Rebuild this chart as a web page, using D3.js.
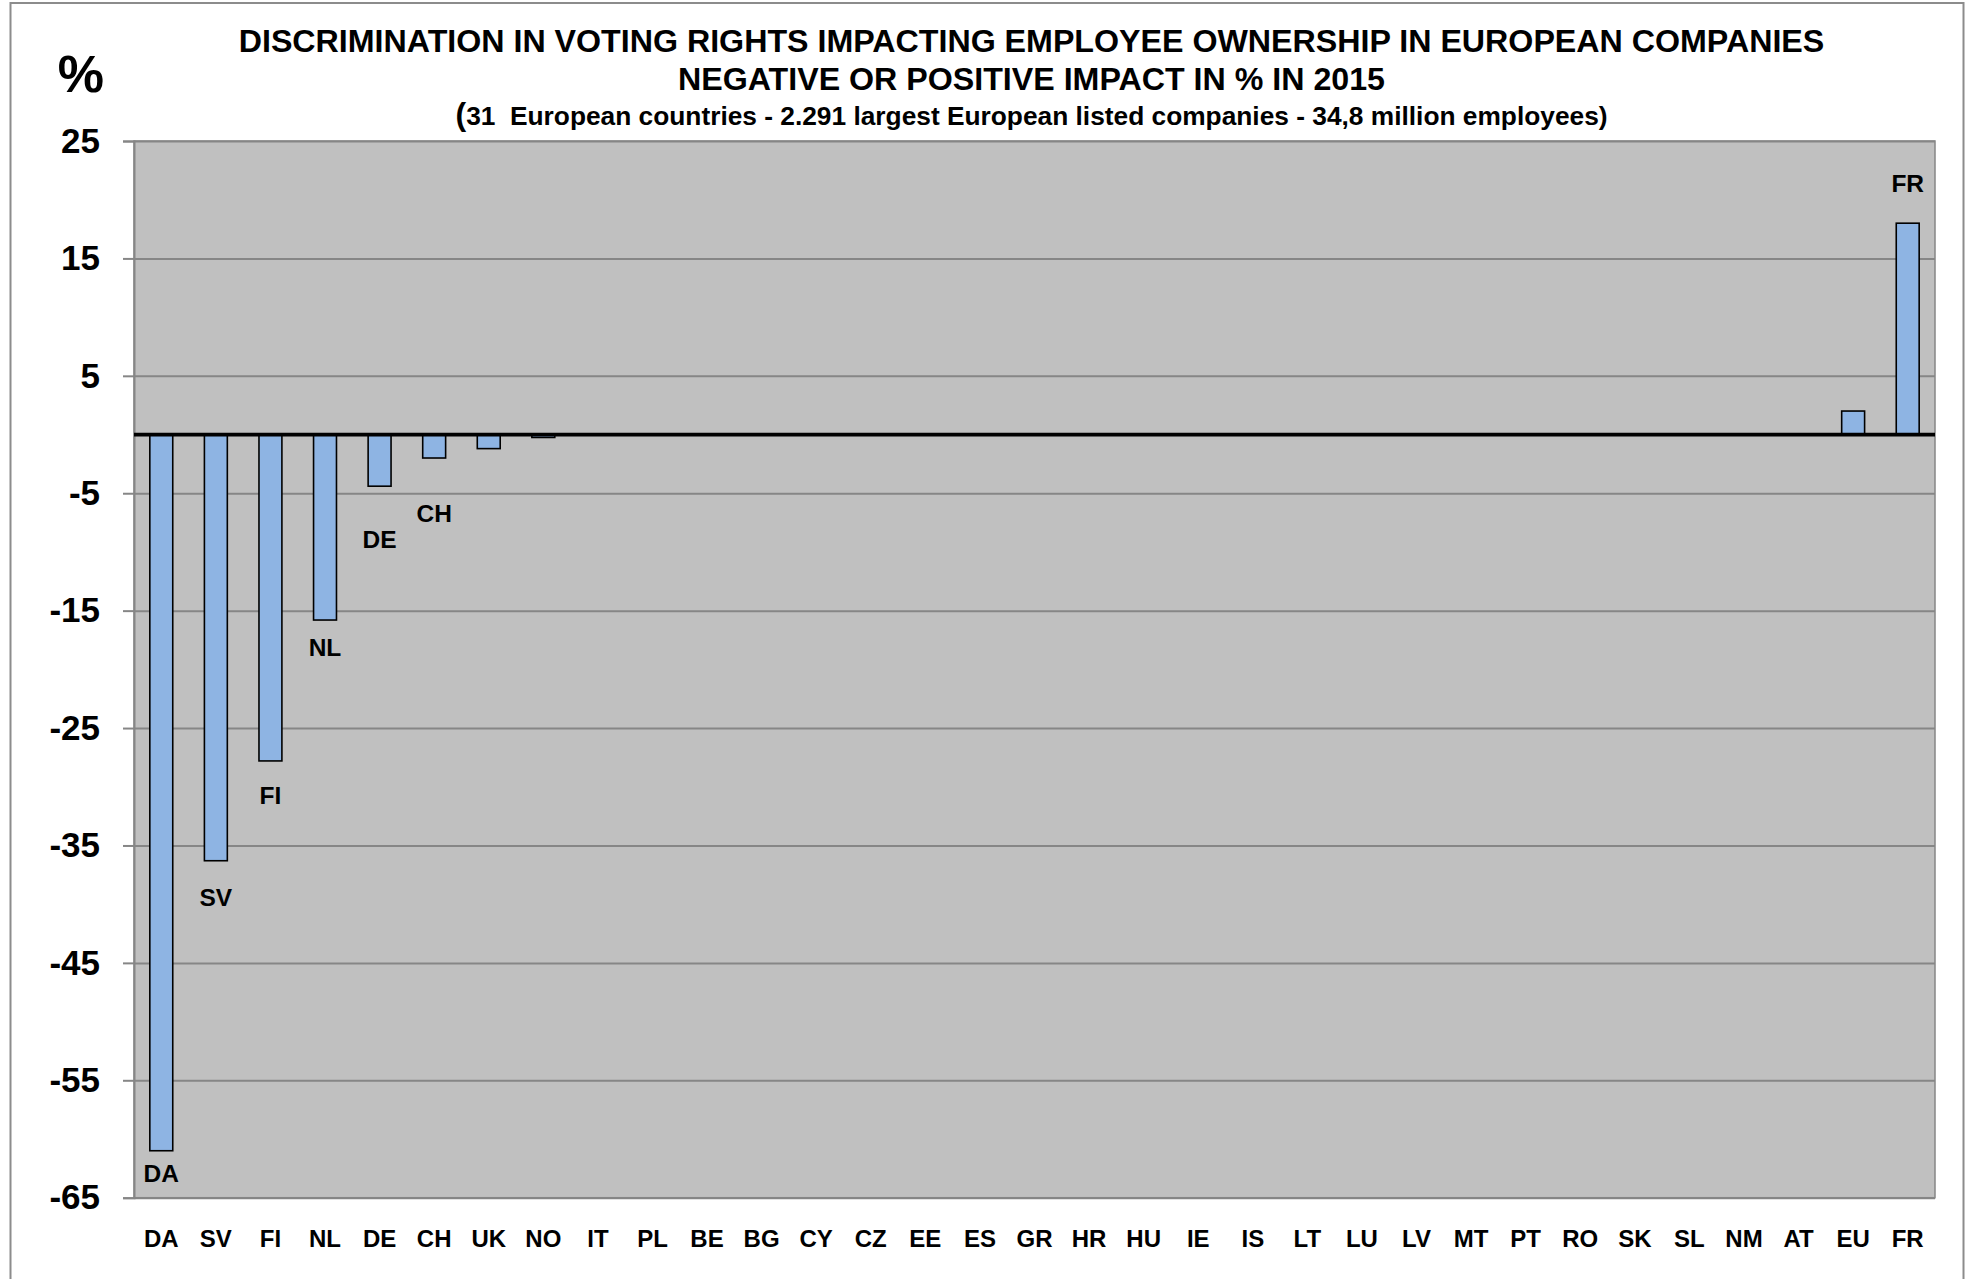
<!DOCTYPE html>
<html>
<head>
<meta charset="utf-8">
<script src="https://cdn.jsdelivr.net/npm/d3@7"></script>
<style>
  html, body { margin: 0; padding: 0; background: #ffffff; }
  svg { display: block; }
  text { font-family: "Liberation Sans", Arial, Helvetica, sans-serif; font-weight: bold; fill: #000; }
</style>
</head>
<body>
<script>
// Countries, ordered as on the category axis
const categories = ["DA","SV","FI","NL","DE","CH","UK","NO","IT","PL","BE","BG","CY","CZ","EE","ES",
                    "GR","HR","HU","IE","IS","LT","LU","LV","MT","PT","RO","SK","SL","NM","AT","EU","FR"];

// Negative or positive impact on employee ownership, % (2015)
const impact = [-61.0, -36.3, -27.8, -15.8, -4.4, -2.0, -1.2, -0.25,
                0, 0, 0, 0, 0, 0, 0, 0, 0, 0, 0, 0, 0, 0, 0, 0, 0, 0, 0, 0, 0, 0, 0,
                2.0, 18.0];

// Value-axis ticks
const yTicks = [25, 15, 5, -5, -15, -25, -35, -45, -55, -65];

// Countries that carry a data label
const labelled = ["DA", "SV", "FI", "NL", "DE", "CH", "FR"];

const titleLines = [
  "DISCRIMINATION IN VOTING RIGHTS IMPACTING EMPLOYEE OWNERSHIP IN EUROPEAN COMPANIES",
  "NEGATIVE OR POSITIVE IMPACT IN % IN 2015"
];
const subtitle = "31  European countries - 2.291 largest European listed companies - 34,8 million employees)";

const data = categories.map((c, i) => ({ country: c, value: impact[i] }));

// ---- layout ----
const W = 1968, H = 1279;
const plot = { left: 134, right: 1935, top: 141, bottom: 1197.7 };

// Hand-placed data labels: baseline distance (px) from the end of the bar
const labelNudge = { DA: 31, SV: 45, FI: 43, NL: 36, DE: 62, CH: 64, FR: 31 };

const svg = d3.select("body").append("svg")
  .attr("width", W).attr("height", H);

// outer chart frame
svg.append("rect")
  .attr("x", 10.5).attr("y", 3).attr("width", 1953).attr("height", 1320)
  .attr("fill", "none").attr("stroke", "#8c8c8c").attr("stroke-width", 2);

const x = d3.scaleBand()
  .domain(categories)
  .range([plot.left, plot.right])
  .paddingInner(0.58)
  .paddingOuter(0.29);

const y = d3.scaleLinear()
  .domain([-65, 25])
  .range([plot.bottom, plot.top]);

// plot area background
svg.append("rect")
  .attr("x", plot.left).attr("y", plot.top)
  .attr("width", plot.right - plot.left).attr("height", plot.bottom - plot.top)
  .attr("fill", "#c0c0c0");

// horizontal gridlines
const grid = svg.append("g")
  .attr("transform", `translate(${plot.left},0)`)
  .call(d3.axisLeft(y).tickValues(yTicks).tickSize(-(plot.right - plot.left)).tickFormat(""));
grid.select(".domain").remove();
grid.selectAll(".tick line").attr("stroke", "#868686").attr("stroke-width", 2);

// plot area frame
svg.append("rect")
  .attr("x", plot.left).attr("y", plot.top)
  .attr("width", plot.right - plot.left).attr("height", plot.bottom - plot.top)
  .attr("fill", "none").attr("stroke", "#868686").attr("stroke-width", 1.5);

// value axis with tick marks and labels (plain hyphen for negatives)
const yAxis = svg.append("g")
  .attr("transform", `translate(${plot.left},0)`)
  .call(d3.axisLeft(y).tickValues(yTicks).tickSize(11).tickPadding(23).tickFormat(d => String(d)));
yAxis.select(".domain").attr("stroke", "#868686").attr("stroke-width", 2);
yAxis.selectAll(".tick line").attr("stroke", "#868686").attr("stroke-width", 2);
yAxis.selectAll(".tick text")
  .style("font-family", "'Liberation Sans', Arial, sans-serif")
  .style("font-weight", "bold")
  .style("font-size", "35px")
  .attr("fill", "#000");

// bars
svg.append("g").selectAll("rect")
  .data(data.filter(d => d.value !== 0))
  .join("rect")
  .attr("x", d => x(d.country))
  .attr("width", x.bandwidth())
  .attr("y", d => y(Math.max(0, d.value)))
  .attr("height", d => Math.abs(y(d.value) - y(0)))
  .attr("fill", "#8eb4e3")
  .attr("stroke", "#000")
  .attr("stroke-width", 1.6);

// zero line
svg.append("line")
  .attr("x1", plot.left).attr("x2", plot.right)
  .attr("y1", y(0)).attr("y2", y(0))
  .attr("stroke", "#000").attr("stroke-width", 3.8);

// category axis labels
const xAxis = svg.append("g")
  .attr("transform", `translate(0,${plot.bottom})`)
  .call(d3.axisBottom(x).tickSize(0).tickPadding(32));
xAxis.select(".domain").remove();
xAxis.selectAll(".tick text")
  .style("font-family", "'Liberation Sans', Arial, sans-serif")
  .style("font-weight", "bold")
  .style("font-size", "24px")
  .attr("fill", "#000");

// data labels
svg.append("g").selectAll("text")
  .data(data.filter(d => labelled.includes(d.country)))
  .join("text")
  .attr("x", d => x(d.country) + x.bandwidth() / 2)
  .attr("y", d => d.value < 0 ? y(d.value) + labelNudge[d.country] : y(d.value) - labelNudge[d.country])
  .attr("text-anchor", "middle")
  .style("font-size", "24.5px")
  .text(d => d.country);

// titles
const cx = (plot.left + plot.right) / 2 - 3;
svg.append("text")
  .attr("x", cx).attr("y", 52)
  .attr("text-anchor", "middle")
  .style("font-size", "32.2px")
  .text(titleLines[0]);
svg.append("text")
  .attr("x", cx).attr("y", 90)
  .attr("text-anchor", "middle")
  .style("font-size", "32.2px")
  .text(titleLines[1]);
const sub = svg.append("text")
  .attr("x", cx).attr("y", 125)
  .attr("text-anchor", "middle")
  .style("white-space", "pre")
  .style("font-size", "26.3px");
sub.append("tspan").style("font-size", "32px").text("(");
sub.append("tspan").text(subtitle);

// unit label
svg.append("text")
  .attr("x", 104).attr("y", 92)
  .attr("text-anchor", "end")
  .style("font-size", "52px")
  .text("%");
</script>
</body>
</html>
